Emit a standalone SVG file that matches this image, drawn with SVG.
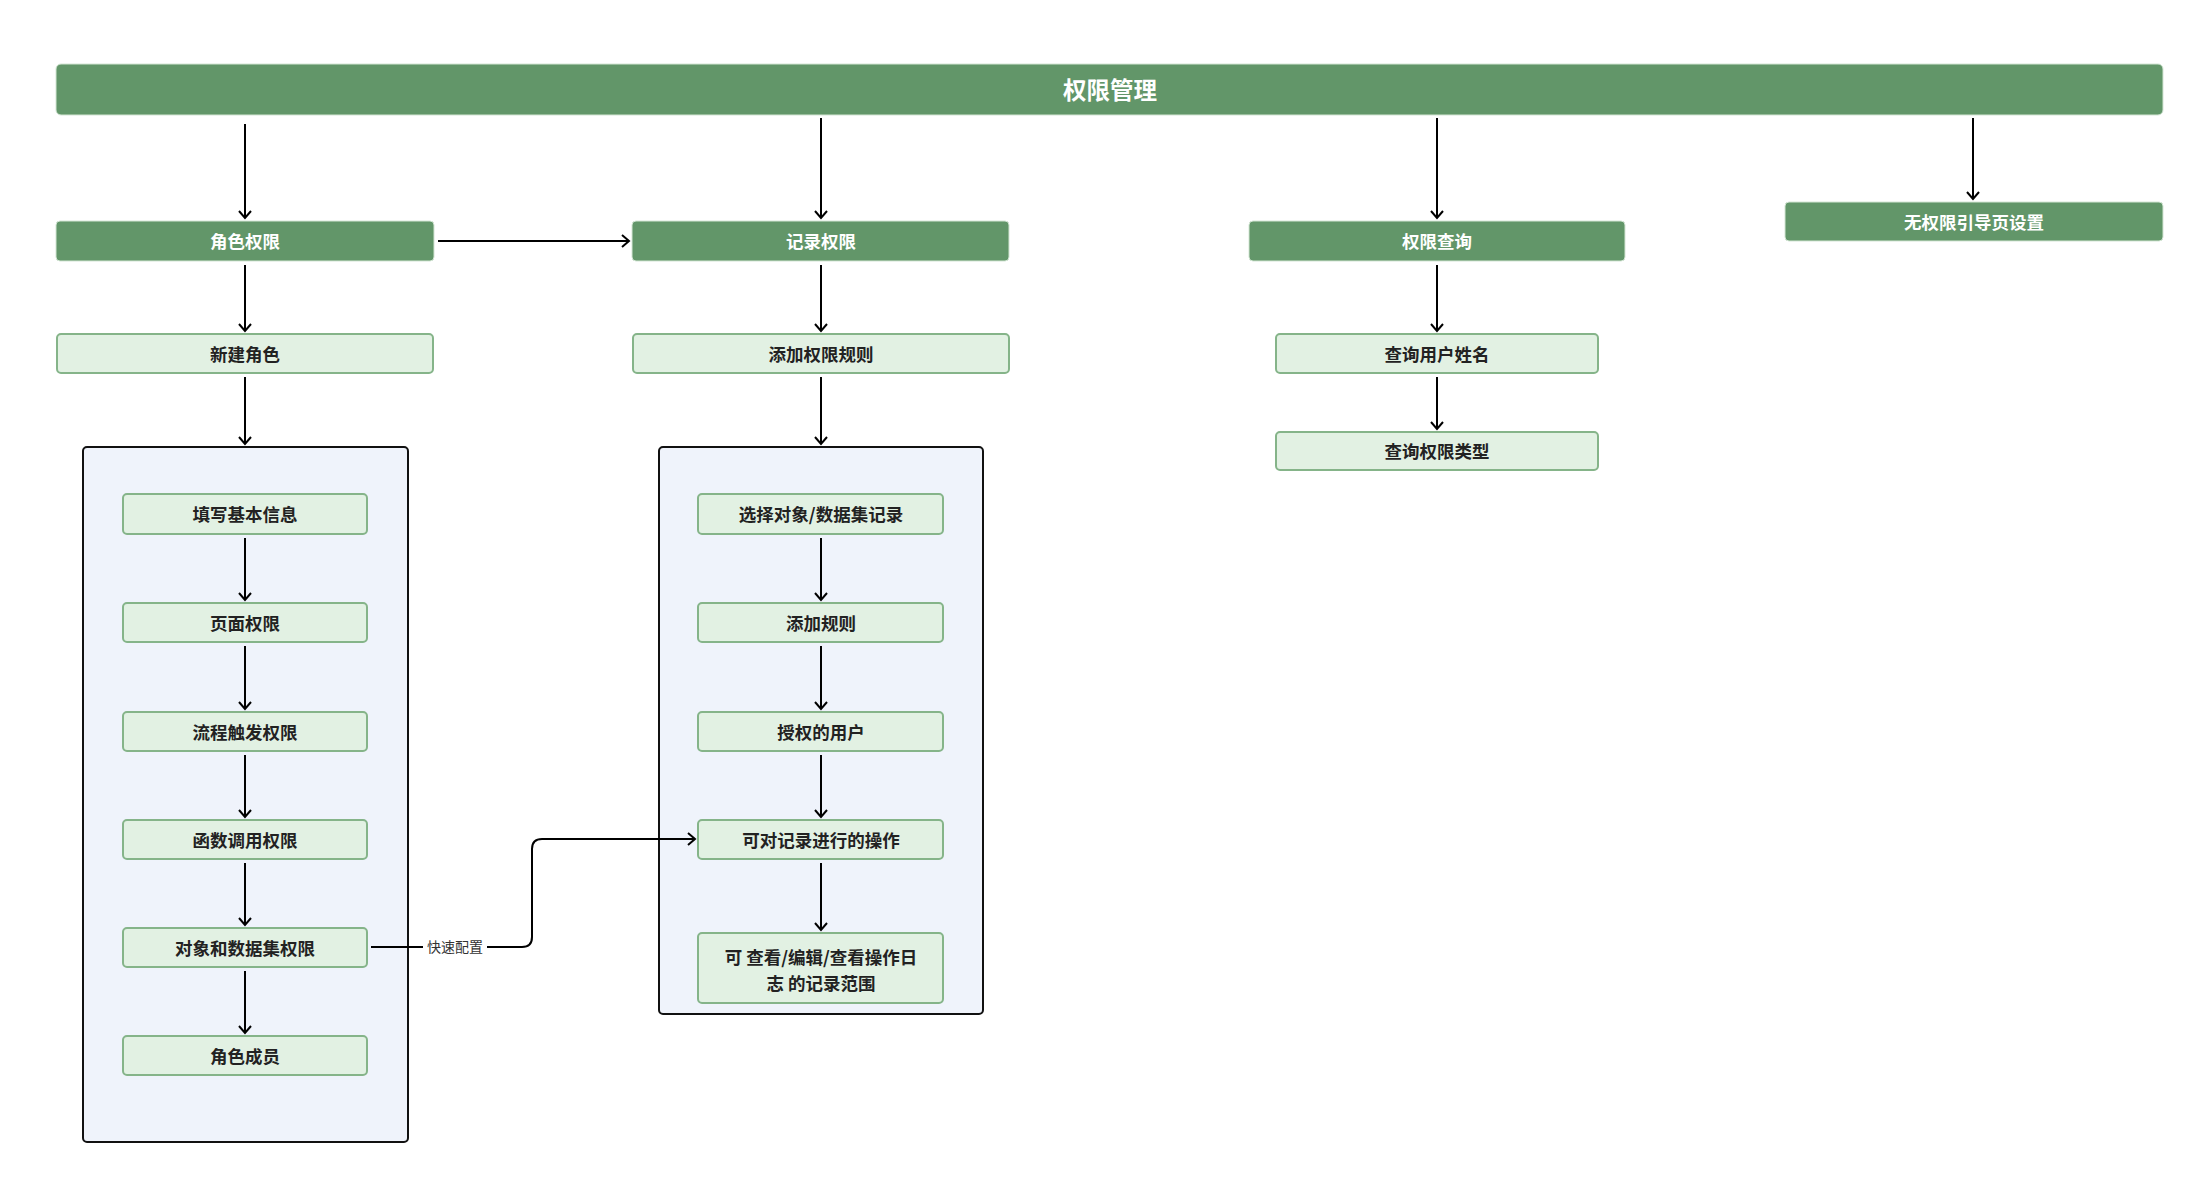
<svg xmlns="http://www.w3.org/2000/svg" width="2212" height="1188" viewBox="0 0 2212 1188">
<defs>
<style>
.dark{fill:#629669;stroke:#d4e6d5;stroke-width:1}
.light{fill:#e2f1e3;stroke:#85b489;stroke-width:2}
.cont{fill:#eff3fb;stroke:#111;stroke-width:2}
.tw{font-family:"Noto Sans CJK SC","Noto Sans",sans-serif;font-weight:700;fill:#ffffff;text-anchor:middle;dominant-baseline:central}
.tb{font-family:"Noto Sans CJK SC","Noto Sans",sans-serif;font-weight:700;fill:#222;text-anchor:middle;dominant-baseline:central;font-size:17.5px}
.lbl{font-family:"Noto Sans CJK SC","Noto Sans",sans-serif;fill:#333;text-anchor:middle;dominant-baseline:central;font-size:14px}
.edge{fill:none;stroke:#000;stroke-width:2}
</style>
<marker id="arr" markerWidth="14" markerHeight="14" refX="10" refY="7" orient="auto" markerUnits="userSpaceOnUse">
<path d="M3,1 L10,7 L3,13" fill="none" stroke="#000" stroke-width="2"/>
</marker>
</defs>
<rect width="2212" height="1188" fill="#fff"/>

<g id="node-title"><rect class="dark" x="56" y="64" width="2107" height="51" rx="5"/><text class="tw" x="1110" y="89" font-size="23.5">权限管理</text></g>

<g id="node-role"><rect class="dark" x="56" y="221" width="378" height="40" rx="4"/><text class="tw" x="245" y="240" font-size="17.5">角色权限</text></g>
<g id="node-record"><rect class="dark" x="632" y="221" width="377" height="40" rx="4"/><text class="tw" x="821" y="240" font-size="17.5">记录权限</text></g>
<g id="node-query"><rect class="dark" x="1249" y="221" width="376" height="40" rx="4"/><text class="tw" x="1437" y="240" font-size="17.5">权限查询</text></g>
<g id="node-noperm"><rect class="dark" x="1785" y="202" width="378" height="39" rx="4"/><text class="tw" x="1974" y="221" font-size="17.5">无权限引导页设置</text></g>

<g id="node-newrole"><rect class="light" x="57" y="334" width="376" height="39" rx="4"/><text class="tb" x="245" y="353">新建角色</text></g>
<g id="node-addrule"><rect class="light" x="633" y="334" width="376" height="39" rx="4"/><text class="tb" x="821" y="353">添加权限规则</text></g>
<g id="node-qname"><rect class="light" x="1276" y="334" width="322" height="39" rx="4"/><text class="tb" x="1437" y="353">查询用户姓名</text></g>
<g id="node-qtype"><rect class="light" x="1276" y="432" width="322" height="38" rx="4"/><text class="tb" x="1437" y="450">查询权限类型</text></g>

<g id="group-role"><rect class="cont" x="83" y="447" width="325" height="695" rx="4"/></g>
<g id="group-record"><rect class="cont" x="659" y="447" width="324" height="567" rx="4"/></g>

<g id="node-basic"><rect class="light" x="123" y="494" width="244" height="40" rx="4"/><text class="tb" x="245" y="513">填写基本信息</text></g>
<g id="node-page"><rect class="light" x="123" y="603" width="244" height="39" rx="4"/><text class="tb" x="245" y="622">页面权限</text></g>
<g id="node-flow"><rect class="light" x="123" y="712" width="244" height="39" rx="4"/><text class="tb" x="245" y="731">流程触发权限</text></g>
<g id="node-func"><rect class="light" x="123" y="820" width="244" height="39" rx="4"/><text class="tb" x="245" y="839">函数调用权限</text></g>
<g id="node-obj"><rect class="light" x="123" y="928" width="244" height="39" rx="4"/><text class="tb" x="245" y="947">对象和数据集权限</text></g>
<g id="node-member"><rect class="light" x="123" y="1036" width="244" height="39" rx="4"/><text class="tb" x="245" y="1055">角色成员</text></g>

<g id="node-select"><rect class="light" x="698" y="494" width="245" height="40" rx="4"/><text class="tb" x="821" y="513">选择对象/数据集记录</text></g>
<g id="node-rule"><rect class="light" x="698" y="603" width="245" height="39" rx="4"/><text class="tb" x="821" y="622">添加规则</text></g>
<g id="node-user"><rect class="light" x="698" y="712" width="245" height="39" rx="4"/><text class="tb" x="821" y="731">授权的用户</text></g>
<g id="node-ops"><rect class="light" x="698" y="820" width="245" height="39" rx="4"/><text class="tb" x="821" y="839">可对记录进行的操作</text></g>
<g id="node-scope"><rect class="light" x="698" y="933" width="245" height="70" rx="4"/><text class="tb" x="821" y="956">可 查看/编辑/查看操作日</text><text class="tb" x="821" y="982">志 的记录范围</text></g>

<g id="connectors">
<path class="edge" marker-end="url(#arr)" d="M245,124 V218"/>
<path class="edge" marker-end="url(#arr)" d="M821,118 V218"/>
<path class="edge" marker-end="url(#arr)" d="M1437,118 V218"/>
<path class="edge" marker-end="url(#arr)" d="M1973,118 V199"/>
<path class="edge" marker-end="url(#arr)" d="M438,241 H629"/>
<path class="edge" marker-end="url(#arr)" d="M245,265 V331"/>
<path class="edge" marker-end="url(#arr)" d="M821,265 V331"/>
<path class="edge" marker-end="url(#arr)" d="M1437,265 V331"/>
<path class="edge" marker-end="url(#arr)" d="M1437,377 V429"/>
<path class="edge" marker-end="url(#arr)" d="M245,377 V444"/>
<path class="edge" marker-end="url(#arr)" d="M821,377 V444"/>
<path class="edge" marker-end="url(#arr)" d="M245,538 V600"/>
<path class="edge" marker-end="url(#arr)" d="M245,646 V709"/>
<path class="edge" marker-end="url(#arr)" d="M245,755 V817"/>
<path class="edge" marker-end="url(#arr)" d="M245,863 V925"/>
<path class="edge" marker-end="url(#arr)" d="M245,971 V1033"/>
<path class="edge" marker-end="url(#arr)" d="M821,538 V600"/>
<path class="edge" marker-end="url(#arr)" d="M821,646 V709"/>
<path class="edge" marker-end="url(#arr)" d="M821,755 V817"/>
<path class="edge" marker-end="url(#arr)" d="M821,863 V930"/>
<path class="edge" marker-end="url(#arr)" d="M371,947 H423 M487,947 H522 Q532,947 532,937 V849 Q532,839 542,839 H695"/>
<text class="lbl" x="455" y="946">快速配置</text>
</g>
</svg>
